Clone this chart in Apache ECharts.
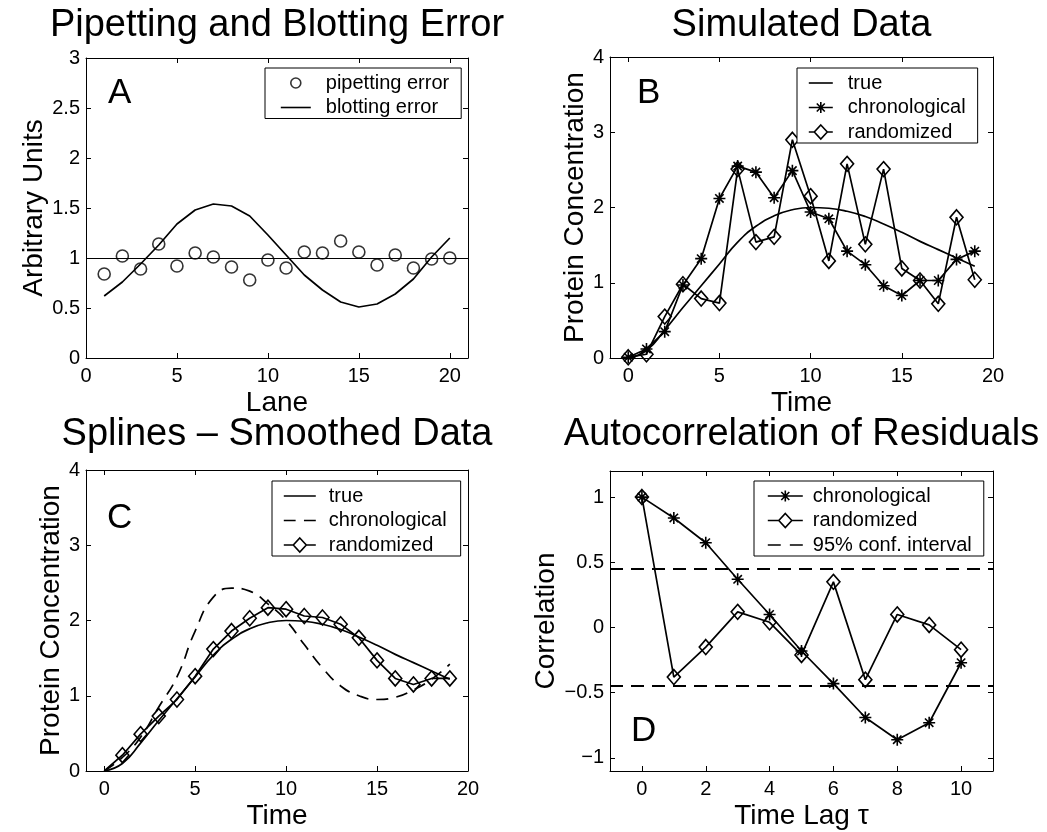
<!DOCTYPE html>
<html><head><meta charset="utf-8">
<script src="https://cdn.jsdelivr.net/npm/echarts@6/dist/echarts.min.js"></script>
<style>html,body{margin:0;padding:0;background:#fff}#c{width:1047px;height:832px}</style>
</head><body><div id="c"></div>
<script>
// ---------- data ----------
const lanes = [1,2,3,4,5,6,7,8,9,10,11,12,13,14,15,16,17,18,19,20];
const pipettingError = [0.84,1.02,0.89,1.14,0.92,1.05,1.01,0.91,0.78,0.98,0.90,1.06,1.05,1.17,1.06,0.93,1.03,0.90,0.99,1.00];
const blottingError  = [0.62,0.76,0.94,1.13,1.34,1.48,1.54,1.52,1.42,1.23,1.03,0.83,0.68,0.56,0.51,0.54,0.64,0.79,1.01,1.20];
const referenceLevel = 1;

const times = [0,1,2,3,4,5,6,7,8,9,10,11,12,13,14,15,16,17,18,19];
const trueConc   = [0,0.10,0.37,0.67,0.96,1.25,1.54,1.75,1.89,1.97,2.00,1.99,1.95,1.88,1.78,1.67,1.55,1.44,1.33,1.22];
const chronoData = [0.01,0.12,0.35,0.97,1.32,2.12,2.55,2.47,2.13,2.49,1.94,1.85,1.42,1.24,0.96,0.83,1.03,1.03,1.31,1.42];
const randomData = [0.01,0.05,0.55,0.98,0.79,0.73,2.51,1.54,1.61,2.90,2.15,1.29,2.58,1.51,2.51,1.19,1.03,0.72,1.87,1.04];

const chronoSmooth = [0,0.18,0.45,0.85,1.25,1.86,2.31,2.43,2.39,2.22,2.00,1.68,1.37,1.13,1.00,0.95,0.98,1.08,1.22,1.42];
const randomSmooth = [0,0.21,0.49,0.73,0.95,1.26,1.62,1.86,2.03,2.17,2.15,2.06,2.04,1.95,1.77,1.47,1.23,1.15,1.23,1.23];

const lags = [0,1,2,3,4,5,6,7,8,9,10];
const acfChrono = [1.00,0.84,0.65,0.37,0.10,-0.18,-0.43,-0.69,-0.86,-0.73,-0.27];
const acfRandom = [1.00,-0.38,-0.15,0.12,0.04,-0.21,0.35,-0.40,0.10,0.02,-0.17];
const confBound = 0.45;

const ticksLane = [0,5,10,15,20];
const ticksTime = [0,5,10,15,20];
const ticksLag  = [0,2,4,6,8,10];
const ticksA_y  = [0,0.5,1,1.5,2,2.5,3];
const ticksConc = [0,1,2,3,4];
const ticksCorr = [-1,-0.5,0,0.5,1];

// ---------- helpers ----------
const FONT = '"Liberation Sans", Arial, Helvetica, sans-serif';
const zip = (xs, ys) => xs.map((x, i) => [x, ys[i]]);
const fmt = v => String(v).replace('-', '\u2212');
const ASTERISK = 'path://M5,0L5,10M0,5L10,5M1.5,1.5L8.5,8.5M8.5,1.5L1.5,8.5';

// legend icon paths (frame W x 14)
const ICON = {
  line:   W => `path://M0,0M${W},14M0,7L${W},7`,
  circle: W => `path://M0,0M${W},14M${W/2-5},7A5,5,0,1,1,${W/2+5},7A5,5,0,1,1,${W/2-5},7Z`,
  star:   W => `path://M0,0M${W},14M0,7L${W},7M${W/2},1.5L${W/2},12.5M${W/2-4},3L${W/2+4},11M${W/2+4},3L${W/2-4},11`,
  diamond:W => `path://M0,0M${W},14M0,7L${W/2-6.5},7M${W/2+6.5},7L${W},7M${W/2},0L${W/2+6.5},7L${W/2},14L${W/2-6.5},7Z`,
  dashed: W => `path://M0,0M${W},14M0,7L${W*0.37},7M${W*0.63},7L${W},7`
};

const grids = [
  {left: 86,  top: 58,  width: 382, height: 300},
  {left: 610, top: 57,  width: 383, height: 301},
  {left: 86,  top: 470, width: 382, height: 301},
  {left: 610, top: 471, width: 383, height: 300}
];

function xAx(g, min, max, ticks, name, nameGap, main) {
  return {
    type: 'value', gridIndex: g, min, max, position: main ? 'bottom' : 'top',
    name: main ? name : '', nameLocation: 'middle', nameGap,
    nameTextStyle: {fontSize: 28, color: '#000', fontFamily: FONT},
    axisLine: {show: true, onZero: false, lineStyle: {color: '#000', width: 1}},
    axisTick: {show: true, inside: true, length: 5, customValues: ticks, lineStyle: {color: '#000', width: 1}},
    axisLabel: {show: main, customValues: ticks, margin: 8, fontSize: 20, color: '#000', fontFamily: FONT, formatter: fmt},
    splitLine: {show: false}
  };
}
function yAx(g, min, max, ticks, name, nameGap, main) {
  return {
    type: 'value', gridIndex: g, min, max, position: main ? 'left' : 'right',
    name: main ? name : '', nameLocation: 'middle', nameGap, nameRotate: 90,
    nameTextStyle: {fontSize: 28, color: '#000', fontFamily: FONT},
    axisLine: {show: true, onZero: false, lineStyle: {color: '#000', width: 1}},
    axisTick: {show: true, inside: true, length: 5, customValues: ticks, lineStyle: {color: '#000', width: 1}},
    axisLabel: {show: main, customValues: ticks, margin: 6, fontSize: 20, color: '#000', fontFamily: FONT, formatter: fmt},
    splitLine: {show: false}
  };
}

const lineBase = (name, g, data, extra) => Object.assign({
  name, type: 'line', xAxisIndex: 2 * g, yAxisIndex: 2 * g, data,
  symbol: 'none', lineStyle: {color: '#000', width: 1.7}, itemStyle: {color: '#000'},
  animation: false, z: 3
}, extra || {});

const openMarker = (symbol, size) => ({
  symbol, symbolSize: size, showAllSymbol: true,
  itemStyle: {color: 'rgba(0,0,0,0)', borderColor: '#000', borderWidth: 1.6}
});

function legend(left, top, W, padL, padR, gap, items) {
  return {
    left, top, orient: 'vertical', selectedMode: false,
    data: items.map(([name, kind]) => ({name, icon: ICON[kind](W)})),
    itemWidth: W, itemHeight: 14, itemGap: 4.5,
    padding: [5, padR, 1, padL], borderColor: '#000', borderWidth: 1, backgroundColor: '#fff',
    itemStyle: {color: 'rgba(0,0,0,0)', borderColor: '#000', borderWidth: 1.6},
    formatter: n => n.slice(2),
    textStyle: {fontSize: 20, color: '#000', fontFamily: FONT, padding: [0, 0, 0, gap - 5]}
  };
}

const titleStyle = {fontSize: 38, fontWeight: 'normal', color: '#000', fontFamily: FONT};

const randomSmoothData = zip(times, randomSmooth).map((p, i) => i === 0 ? {value: p, symbol: 'none'} : p);

const option = {
  backgroundColor: '#fff',
  animation: false,
  title: [
    {text: 'Pipetting and Blotting Error', left: 277, top: 7, textAlign: 'center', padding: 0, textStyle: titleStyle},
    {text: 'Simulated Data', left: 801.5, top: 7, textAlign: 'center', padding: 0, textStyle: titleStyle},
    {text: 'Splines \u2013 Smoothed Data', left: 277, top: 416, textAlign: 'center', padding: 0, textStyle: titleStyle},
    {text: 'Autocorrelation of Residuals', left: 801.5, top: 416, textAlign: 'center', padding: 0, textStyle: titleStyle}
  ],
  grid: grids.map(g => Object.assign({containLabel: false, outerBoundsMode: 'none'}, g)),
  xAxis: [
    xAx(0, 0, 21, ticksLane, 'Lane', 31, true),  xAx(0, 0, 21, ticksLane, '', 0, false),
    xAx(1, -1, 20, ticksTime, 'Time', 31, true), xAx(1, -1, 20, ticksTime, '', 0, false),
    xAx(2, -1, 20, ticksTime, 'Time', 31, true), xAx(2, -1, 20, ticksTime, '', 0, false),
    xAx(3, -1, 11, ticksLag, 'Time Lag \u03c4', 31, true), xAx(3, -1, 11, ticksLag, '', 0, false)
  ],
  yAxis: [
    yAx(0, 0, 3, ticksA_y, 'Arbitrary Units', 30, true),  yAx(0, 0, 3, ticksA_y, '', 0, false),
    yAx(1, 0, 4, ticksConc, 'Protein Concentration', 19, true), yAx(1, 0, 4, ticksConc, '', 0, false),
    yAx(2, 0, 4, ticksConc, 'Protein Concentration', 19, true), yAx(2, 0, 4, ticksConc, '', 0, false),
    yAx(3, -1.1, 1.2, ticksCorr, 'Correlation', 46, true), yAx(3, -1.1, 1.2, ticksCorr, '', 0, false)
  ],
  legend: [
    legend(265, 68, 30, 15, 12, 15, [['A:pipetting error', 'circle'], ['A:blotting error', 'line']]),
    legend(797, 68, 24, 11, 12, 15, [['B:true', 'line'], ['B:chronological', 'star'], ['B:randomized', 'diamond']]),
    legend(272, 481, 32, 11, 14, 13, [['C:true', 'line'], ['C:chronological', 'dashed'], ['C:randomized', 'diamond']]),
    legend(754, 481, 35, 13, 12, 10, [['D:chronological', 'star'], ['D:randomized', 'diamond'], ['D:95% conf. interval', 'dashed']])
  ],
  graphic: [
    {type: 'text', x: 108, y: 93, style: {text: 'A', font: '35px ' + FONT, fill: '#000', textAlign: 'left', textVerticalAlign: 'middle'}},
    {type: 'text', x: 637, y: 93, style: {text: 'B', font: '35px ' + FONT, fill: '#000', textAlign: 'left', textVerticalAlign: 'middle'}},
    {type: 'text', x: 107, y: 518, style: {text: 'C', font: '35px ' + FONT, fill: '#000', textAlign: 'left', textVerticalAlign: 'middle'}},
    {type: 'text', x: 631, y: 731, style: {text: 'D', font: '35px ' + FONT, fill: '#000', textAlign: 'left', textVerticalAlign: 'middle'}}
  ],
  series: [
    // Panel A
    Object.assign({name: 'A:pipetting error', type: 'scatter', xAxisIndex: 0, yAxisIndex: 0,
      data: zip(lanes, pipettingError), animation: false, z: 4}, openMarker('circle', 12)),
    lineBase('A:blotting error', 0, zip(lanes, blottingError), {
      markLine: {silent: true, symbol: ['none', 'none'], label: {show: false},
        lineStyle: {color: '#000', width: 1, type: 'solid'}, data: [{yAxis: referenceLevel}], animation: false}
    }),
    // Panel B
    lineBase('B:true', 1, zip(times, trueConc), {smooth: true}),
    lineBase('B:chronological', 1, zip(times, chronoData), openMarker(ASTERISK, 12)),
    lineBase('B:randomized', 1, zip(times, randomData), openMarker('diamond', [13, 15])),
    // Panel C
    lineBase('C:true', 2, zip(times, trueConc), {smooth: true}),
    lineBase('C:chronological', 2, zip(times, chronoSmooth), {smooth: true,
      lineStyle: {color: '#000', width: 1.7, type: [12, 8]}}),
    lineBase('C:randomized', 2, randomSmoothData, openMarker('diamond', [13, 15])),
    // Panel D
    lineBase('D:chronological', 3, zip(lags, acfChrono), openMarker(ASTERISK, 12)),
    lineBase('D:randomized', 3, zip(lags, acfRandom), openMarker('diamond', [13, 15])),
    lineBase('D:95% conf. interval', 3, [], {
      lineStyle: {color: '#000', width: 1.8, type: [13, 8]},
      markLine: {silent: true, symbol: ['none', 'none'], label: {show: false},
        lineStyle: {color: '#000', width: 1.8, type: [13, 8]},
        data: [{yAxis: confBound}, {yAxis: -confBound}], animation: false}
    })
  ]
};

const chart = echarts.init(document.getElementById('c'), null, {renderer: 'canvas'});
chart.setOption(option);
</script>
</body></html>
